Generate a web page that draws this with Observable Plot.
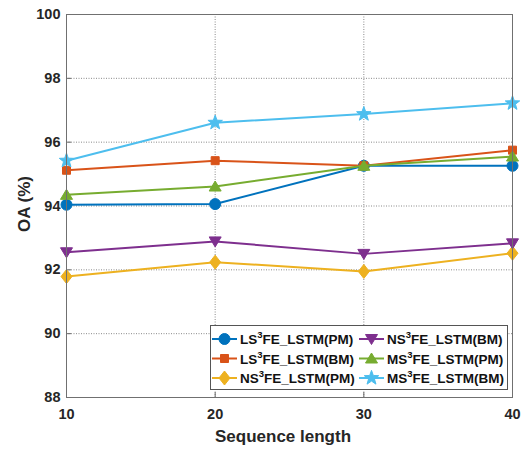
<!DOCTYPE html>
<html>
<head>
<meta charset="utf-8">
<script src="https://cdn.jsdelivr.net/npm/d3@7"></script>
<script src="https://cdn.jsdelivr.net/npm/@observablehq/plot@0.6"></script>
<style>
  body { margin: 0; background: #fff; }
  #chart svg { display: block; }
</style>
</head>
<body>
<div id="chart"></div>
<script>
// Overall accuracy vs. sequence length for six LSTM variants
const seqLen = [10, 20, 30, 40];
const lsPM = [94.04, 94.06, 95.26, 95.26];
const lsBM = [95.12, 95.42, 95.26, 95.75];
const nsPM = [91.79, 92.24, 91.95, 92.52];
const nsBM = [92.55, 92.89, 92.50, 92.83];
const msPM = [94.35, 94.61, 95.26, 95.55];
const msBM = [95.42, 96.61, 96.88, 97.22];

const seriesPrefix = ["LS", "LS", "NS", "NS", "MS", "MS"];
const seriesSuffix = ["FE_LSTM(PM)", "FE_LSTM(BM)", "FE_LSTM(PM)", "FE_LSTM(BM)", "FE_LSTM(PM)", "FE_LSTM(BM)"];
const seriesValues = [lsPM, lsBM, nsPM, nsBM, msPM, msBM];
const seriesColors = ["#0072BD", "#D95319", "#EDB120", "#7E2F8E", "#77AC30", "#4DBEEE"];

const xTicks = [10, 20, 30, 40];
const yTicks = [88, 90, 92, 94, 96, 98, 100];

// marker shapes
const symCircle = {draw(c) { c.moveTo(5.5, 0); c.arc(0, 0, 5.5, 0, 2 * Math.PI); }};
const symSquare = {draw(c) { c.rect(-4, -4, 8, 8); }};
const symDiamond = {draw(c) { c.moveTo(0, -7); c.lineTo(5.5, 0); c.lineTo(0, 7); c.lineTo(-5.5, 0); c.closePath(); }};
const symTriDown = {draw(c) { c.moveTo(-6, -4.5); c.lineTo(6, -4.5); c.lineTo(0, 5.5); c.closePath(); }};
const symTriUp = {draw(c) { c.moveTo(-6, 4.5); c.lineTo(6, 4.5); c.lineTo(0, -5.5); c.closePath(); }};
const symStar = {draw(c) {
  for (let i = 0; i < 10; i++) {
    const r = i % 2 ? 3.1 : 7.6;
    const a = -Math.PI / 2 + i * Math.PI / 5;
    const px = r * Math.cos(a), py = r * Math.sin(a);
    if (i === 0) c.moveTo(px, py); else c.lineTo(px, py);
  }
  c.closePath();
}};
const seriesSymbols = [symCircle, symSquare, symDiamond, symTriDown, symTriUp, symStar];

const W = 523, H = 454;
const mL = 66, mR = 11, mT = 14, mB = 57;
const font = "'Liberation Sans', Arial, Helvetica, sans-serif";
const ink = "#262626";

const seriesMarks = [];
seriesValues.forEach((vals, k) => {
  const rows = seqLen.map((x, i) => ({x, y: vals[i]}));
  seriesMarks.push(Plot.line(rows, {x: "x", y: "y", stroke: seriesColors[k], strokeWidth: 2}));
  seriesMarks.push(Plot.dot(rows, {x: "x", y: "y", symbol: seriesSymbols[k], fill: seriesColors[k], stroke: seriesColors[k], strokeWidth: 1}));
});

const chart = Plot.plot({
  width: W,
  height: H,
  marginLeft: mL,
  marginRight: mR,
  marginTop: mT,
  marginBottom: mB,
  style: {fontFamily: font, background: "#fff", overflow: "visible"},
  x: {domain: [10, 40]},
  y: {domain: [88, 100]},
  marks: [
    Plot.gridX(xTicks.slice(1, -1), {stroke: "#8a8a8a", strokeOpacity: 1, strokeDasharray: "1,1.5"}),
    Plot.gridY(yTicks.slice(1, -1), {stroke: "#8a8a8a", strokeOpacity: 1, strokeDasharray: "1,1.5"}),
    Plot.axisX(xTicks, {tickSize: -5, tickPadding: 16, stroke: "#666", fontSize: 14.5, fontWeight: "bold", fill: ink, label: null}),
    Plot.axisY(yTicks, {tickSize: -5, tickPadding: 11, stroke: "#666", fontSize: 14.5, fontWeight: "bold", fill: ink, label: null}),
    ...seriesMarks,
    Plot.frame({stroke: "#707070", strokeWidth: 1})
  ]
});
document.getElementById("chart").appendChild(chart);

const svg = d3.select(chart);

// axis titles
svg.append("text")
  .attr("x", 283).attr("y", 442)
  .attr("text-anchor", "middle")
  .attr("font-family", font).attr("font-size", 17).attr("font-weight", "bold")
  .attr("fill", ink)
  .text("Sequence length");
svg.append("text")
  .attr("transform", "translate(30,204) rotate(-90)")
  .attr("text-anchor", "middle")
  .attr("font-family", font).attr("font-size", 17).attr("font-weight", "bold")
  .attr("fill", ink)
  .text("OA (%)");

// legend box, two columns filled column by column
const boxW = 297, boxH = 64;
const boxX = W - mR - 5 - boxW, boxY = H - mB - 8 - boxH;
const lg = svg.append("g").attr("transform", `translate(${boxX},${boxY})`);
lg.append("rect").attr("x", 0.5).attr("y", 0.5).attr("width", boxW).attr("height", boxH)
  .style("fill", "#fff").style("stroke", "#555").style("stroke-width", "1px");
const colX = [2, 149];
const rowY = [14, 33.5, 53];
seriesValues.forEach((_, k) => {
  const col = Math.floor(k / 3), row = k % 3;
  const g = lg.append("g").attr("transform", `translate(${colX[col]},${rowY[row]})`);
  g.append("line").attr("x1", 0).attr("x2", 25).attr("y1", 0).attr("y2", 0)
    .style("stroke", seriesColors[k]).style("stroke-width", "2px");
  g.append("path").attr("transform", "translate(12.5,0)")
    .attr("d", d3.symbol(seriesSymbols[k])())
    .style("fill", seriesColors[k]).style("stroke", seriesColors[k]);
  const t = g.append("text").attr("x", 28).attr("y", 5)
    .attr("text-anchor", "start")
    .attr("font-family", font).attr("font-size", 13.5).attr("font-weight", "bold")
    .attr("fill", "#111");
  t.append("tspan").text(seriesPrefix[k]);
  t.append("tspan").attr("font-size", 9.5).attr("dy", -6).text("3");
  t.append("tspan").attr("dy", 6).text(seriesSuffix[k]);
});
</script>
</body>
</html>
